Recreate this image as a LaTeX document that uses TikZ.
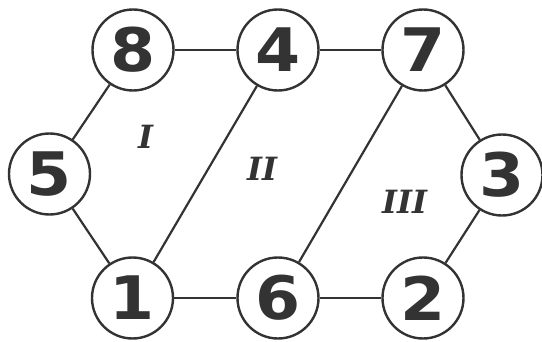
\documentclass[tikz,border=0pt]{standalone}
\usepackage{fontspec}
\newfontfamily\numfont{DejaVu Sans Bold}[FakeStretch=1.08]
\newfontfamily\labfont{DejaVu Serif Bold Italic}
\definecolor{ink}{HTML}{333333}
\begin{document}
\begin{tikzpicture}[x=1pt,y=1pt,
  vtx/.style={circle,draw=ink,line width=2.4pt,fill=white,minimum size=81pt,inner sep=0pt,
    text=ink,font=\numfont\fontsize{60}{60}\selectfont},
  region/.style={text=ink,font=\labfont\fontsize{32}{32}\selectfont},
  edge/.style={draw=ink,line width=2.2pt}]
\useasboundingbox (0,0) rectangle (542,341);
\node[vtx] (n8) at (133,291) {8};
\node[vtx] (n4) at (278,291) {4};
\node[vtx] (n7) at (423,291) {7};
\node[vtx] (n5) at (49.5,167) {5};
\node[vtx] (n3) at (502,166) {3};
\node[vtx] (n1) at (132.5,43) {1};
\node[vtx] (n6) at (278,43) {6};
\node[vtx] (n2) at (423,43) {2};
\node[region] (r1) at (146,204) {I};
\node[region] (r2) at (262.5,172.5) {II};
\node[region] (r3) at (405,139) {III};
\draw[edge] (n8) -- (n4);
\draw[edge] (n4) -- (n7);
\draw[edge] (n8) -- (n5);
\draw[edge] (n5) -- (n1);
\draw[edge] (n1) -- (n4);
\draw[edge] (n1) -- (n6);
\draw[edge] (n6) -- (n2);
\draw[edge] (n6) -- (n7);
\draw[edge] (n7) -- (n3);
\draw[edge] (n3) -- (n2);
\end{tikzpicture}
\end{document}
